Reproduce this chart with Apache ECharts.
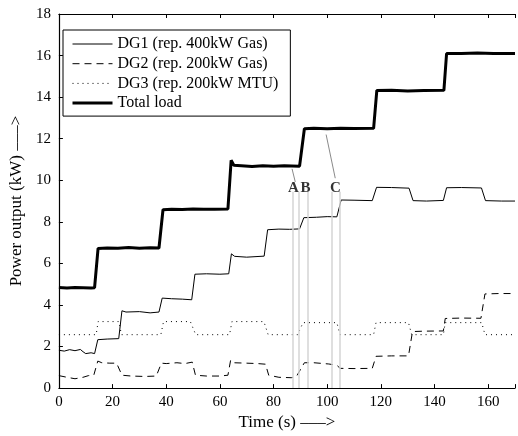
<!DOCTYPE html>
<html>
<head>
<meta charset="utf-8">
<script src="https://cdn.jsdelivr.net/npm/echarts@6/dist/echarts.min.js"></script>
<style>html,body{margin:0;padding:0;background:#fff}#c{width:518px;height:436px}</style>
</head>
<body>
<div id="c"></div>
<script>
// ---- data ----
var xTicks = [0, 20, 40, 60, 80, 100, 120, 140, 160];
var yTicks = [0, 2, 4, 6, 8, 10, 12, 14, 16, 18];

var totalT = [0, 3, 6, 9, 12, 13.3, 14.6, 18, 22, 26, 30, 34, 37.3, 38.8, 42, 46, 50, 54, 58, 63, 64.2, 65.2, 68, 72, 76, 80, 84, 89.7, 91.5, 95, 100, 105, 110, 117.3, 118.5, 124, 130, 136, 143.5, 144.5, 150, 156, 162, 170];
var totalV = [4.84, 4.82, 4.84, 4.83, 4.82, 4.83, 6.72, 6.74, 6.73, 6.76, 6.73, 6.75, 6.74, 8.58, 8.6, 8.59, 8.62, 8.6, 8.61, 8.62, 10.96, 10.72, 10.7, 10.66, 10.7, 10.67, 10.7, 10.68, 12.48, 12.5, 12.48, 12.5, 12.49, 12.5, 14.32, 14.33, 14.3, 14.32, 14.33, 16.1, 16.1, 16.12, 16.1, 16.1];

var dg1T = [0, 2, 4, 6, 8, 9, 10, 12, 13.3, 14.5, 18, 22.3, 23.5, 25, 30, 34, 37.3, 38.5, 42, 46, 49.5, 50.7, 55, 60, 63.3, 64.3, 65.5, 70, 76.5, 77.8, 82, 86, 89.7, 91.3, 96, 100, 103.6, 105.2, 110, 116.8, 118.4, 124, 130.5, 132, 137, 143.3, 144.5, 150, 157.5, 159, 165, 170];
var dg1V = [1.82, 1.78, 1.85, 1.8, 1.86, 1.75, 1.66, 1.7, 1.66, 2.33, 2.36, 2.38, 3.72, 3.66, 3.68, 3.62, 3.66, 4.33, 4.3, 4.28, 4.25, 5.48, 5.5, 5.48, 5.5, 6.46, 6.34, 6.3, 6.35, 7.62, 7.65, 7.64, 7.66, 8.2, 8.22, 8.25, 8.24, 9.05, 9.04, 9.02, 9.66, 9.65, 9.62, 9.02, 9.0, 9.03, 9.64, 9.65, 9.63, 9.02, 9.0, 9.0];

var dg2T = [0, 3, 6, 9, 11, 13, 14.5, 16, 19, 21.5, 23.5, 27, 32, 36.3, 38.2, 40, 44, 47, 49.7, 50.9, 55, 60, 63, 64, 65, 70, 74, 77, 78.2, 82, 86.6, 88.5, 91.5, 95, 100.6, 103.6, 104.8, 110, 116.8, 118.2, 124, 130.3, 131.8, 136, 143.3, 144, 150, 157.3, 158.8, 164, 170];
var dg2V = [0.6, 0.52, 0.45, 0.52, 0.6, 0.62, 1.3, 1.22, 1.2, 1.2, 0.62, 0.58, 0.56, 0.58, 1.2, 1.18, 1.22, 1.18, 1.25, 0.62, 0.58, 0.58, 0.62, 1.34, 1.22, 1.2, 1.18, 1.15, 0.62, 0.52, 0.5, 0.55, 1.22, 1.22, 1.16, 1.1, 0.95, 0.94, 0.95, 1.53, 1.55, 1.55, 2.72, 2.74, 2.75, 3.35, 3.37, 3.36, 4.53, 4.55, 4.55];

var dg3T = [0, 13.9, 14.6, 22.4, 23.3, 38, 39, 49, 51, 63.6, 64.5, 76.4, 78, 89, 91, 103.6, 104.8, 117.3, 118.2, 130.3, 131.5, 143.3, 144, 157.6, 158.8, 170];
var dg3V = [2.57, 2.57, 3.2, 3.2, 2.57, 2.57, 3.2, 3.2, 2.57, 2.57, 3.2, 3.2, 2.57, 2.57, 3.15, 3.15, 2.57, 2.57, 3.15, 3.15, 2.57, 2.57, 3.15, 3.15, 2.57, 2.57];

var seriesNames = ['DG1 (rep. 400kW Gas)', 'DG2 (rep. 200kW Gas)', 'DG3 (rep. 200kW MTU)', 'Total load'];

// annotation markers (instants A, B, C)
var markerX = [87.0, 89.4, 92.8, 101.6, 104.8];
var markerTop = 9.45;
var labelText = ['A', 'B', 'C'];
var labelX = [87.4, 91.9, 103.1];
var labelY = 9.64;
var arrowFrom = [[88.1, 9.92], [103.0, 10.1]];
var arrowTo = [[86.9, 10.55], [99.6, 12.2]];

function pairs(t, v) { return t.map(function (x, i) { return [x, v[i]]; }); }

var FONT = 'Liberation Serif';
var chart = echarts.init(document.getElementById('c'), null, {renderer: 'canvas'});

var vLines = markerX.map(function (x) { return [{coord: [x, 0]}, {coord: [x, markerTop]}]; });
var arrows = arrowFrom.map(function (f, i) { return [{coord: f}, {coord: arrowTo[i]}]; });

var styles = [
  {width: 1, type: 'solid'},
  {width: 1, type: [7, 5]},
  {width: 1, type: [1, 4]},
  {width: 3, type: 'solid'}
];
var hidden = {color: 'rgba(0,0,0,0)', borderColor: 'rgba(0,0,0,0)', borderWidth: 0, opacity: 0};

var option = {
  animation: false,
  backgroundColor: '#fff',
  grid: {left: 56.7, top: 14, width: 467.5, height: 381, containLabel: false},
  legend: {
    data: seriesNames.map(function (n, i) {
      return {name: n, itemStyle: hidden,
        lineStyle: {color: '#000', width: styles[i].width, type: styles[i].type, opacity: 1}};
    }),
    orient: 'vertical',
    left: 63, top: 30,
    itemWidth: 40, itemHeight: 14, itemGap: 3.7,
    padding: [6, 12, 5, 8],
    borderColor: '#000', borderWidth: 1, backgroundColor: '#fff',
    textStyle: {fontFamily: FONT, fontSize: 16, color: '#000'},
    selectedMode: false
  },
  xAxis: [{
    type: 'value', min: 0, max: 170, interval: 20, position: 'bottom',
    axisLine: {show: true, onZero: false, lineStyle: {color: '#000', width: 1.2}},
    axisTick: {show: true, inside: true, length: 4, lineStyle: {color: '#000'}},
    axisLabel: {fontFamily: FONT, fontSize: 15, color: '#000', margin: 6,
      formatter: function (v) { return xTicks.indexOf(v) >= 0 ? String(v) : ''; }},
    splitLine: {show: false},
    name: 'Time (s) –––>', nameLocation: 'middle', nameGap: 24,
    nameTextStyle: {fontFamily: FONT, fontSize: 17, color: '#000'}
  }, {
    type: 'value', min: 0, max: 170, interval: 20, position: 'top',
    axisLine: {show: true, onZero: false, lineStyle: {color: '#000', width: 1.2}},
    axisTick: {show: true, inside: true, length: 4, lineStyle: {color: '#000'}},
    axisLabel: {show: false}, splitLine: {show: false}
  }],
  yAxis: {
    type: 'value', min: 0, max: 18, interval: 2,
    axisLine: {show: true, onZero: false, lineStyle: {color: '#000', width: 1.2}},
    axisTick: {show: true, inside: true, length: 4, lineStyle: {color: '#000'}},
    axisLabel: {fontFamily: FONT, fontSize: 15, color: '#000', margin: 8,
      formatter: function (v) { return yTicks.indexOf(v) >= 0 ? String(v) : ''; }},
    splitLine: {show: false},
    name: 'Power output (kW) –––>', nameLocation: 'middle', nameGap: 28,
    nameTextStyle: {fontFamily: FONT, fontSize: 17, color: '#000'}
  },
  series: [
    {
      name: '_markers', type: 'line', data: [], silent: true, z: 1,
      markLine: {silent: true, symbol: ['none', 'none'], label: {show: false},
        lineStyle: {color: '#d4d4d4', width: 1.5, type: 'solid'}, data: vLines}
    },
    {
      name: '_arrows', type: 'line', data: [], silent: true, z: 6,
      markLine: {silent: true, symbol: ['none', 'arrow'], symbolSize: [0, 8], label: {show: false},
        lineStyle: {color: '#8a8a8a', width: 1, type: 'solid'}, data: arrows}
    },
    {
      name: '_labels', type: 'scatter', silent: true, z: 7, symbolSize: 1,
      itemStyle: {color: 'rgba(0,0,0,0)'},
      data: labelText.map(function (s, i) { return [labelX[i], labelY, s]; }),
      label: {show: true, position: 'inside', formatter: function (p) { return p.value[2]; },
        fontFamily: FONT, fontSize: 15, fontWeight: 'bold', color: '#000'}
    },
    {
      name: seriesNames[0], type: 'line', data: pairs(dg1T, dg1V), symbol: 'none', showSymbol: false, z: 3,
      lineStyle: {color: '#000', width: styles[0].width, type: styles[0].type}, itemStyle: {color: '#000'}
    },
    {
      name: seriesNames[1], type: 'line', data: pairs(dg2T, dg2V), symbol: 'none', showSymbol: false, z: 3,
      lineStyle: {color: '#000', width: styles[1].width, type: styles[1].type}, itemStyle: {color: '#000'}
    },
    {
      name: seriesNames[2], type: 'line', data: pairs(dg3T, dg3V), symbol: 'none', showSymbol: false, z: 3,
      lineStyle: {color: '#000', width: styles[2].width, type: styles[2].type}, itemStyle: {color: '#000'}
    },
    {
      name: seriesNames[3], type: 'line', data: pairs(totalT, totalV), symbol: 'none', showSymbol: false, z: 4,
      lineStyle: {color: '#000', width: styles[3].width, type: styles[3].type}, itemStyle: {color: '#000'}
    }
  ]
};
chart.setOption(option);
</script>
</body>
</html>
